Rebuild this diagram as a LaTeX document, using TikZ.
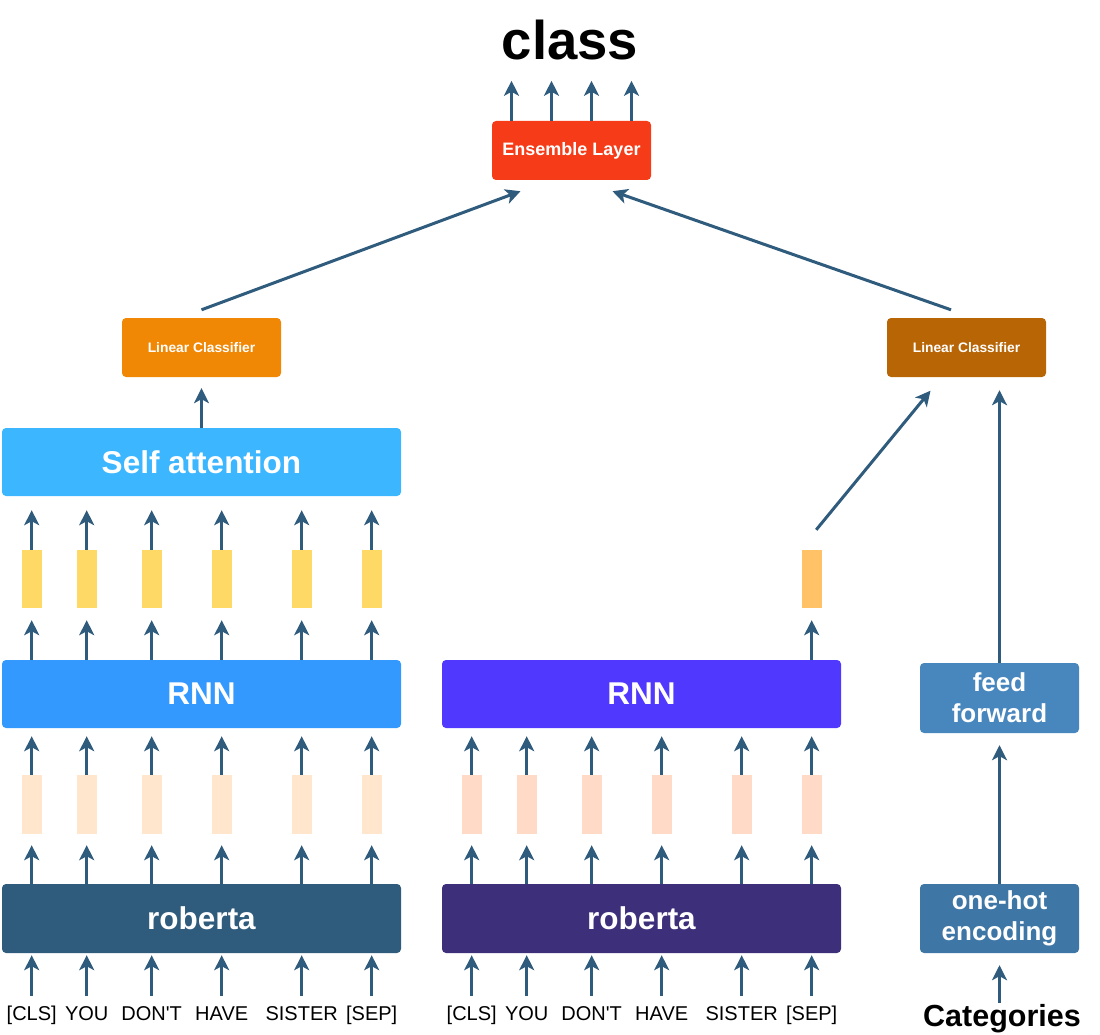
\documentclass[tikz,border=0pt]{standalone}
\usepackage{fontspec}
\setmainfont{Liberation Sans}[Ligatures=TeXOff]
\usetikzlibrary{arrows.meta,calc}
\definecolor{arrc}{HTML}{2F5B7C}
\definecolor{cEns}{HTML}{F53B17}
\definecolor{cLCL}{HTML}{F08705}
\definecolor{cLCR}{HTML}{B86506}
\definecolor{cSA}{HTML}{3CB6FF}
\definecolor{cRNNL}{HTML}{3399FF}
\definecolor{cRNNM}{HTML}{5038FF}
\definecolor{cROBL}{HTML}{2F5B7C}
\definecolor{cROBM}{HTML}{3E2F7B}
\definecolor{cFF}{HTML}{4887BE}
\definecolor{cOH}{HTML}{3E76A5}
\definecolor{cYel}{HTML}{FFD966}
\definecolor{cOra}{HTML}{FFC266}
\definecolor{cPeL}{HTML}{FFE6CC}
\definecolor{cPeM}{HTML}{FFDAC7}
\begin{document}
\begin{tikzpicture}[x=1pt,y=-1pt,
  arr/.style={draw=arrc, line width=3pt, -{Stealth[length=15pt,width=15pt,inset=4pt]}},
  box/.style={rounded corners=4pt, inner sep=0pt, text=white, align=center},
  bigbox/.style={box, minimum width=399pt, minimum height=68pt, font=\bfseries\fontsize{31.5}{34}\selectfont},
  smallbox/.style={box, minimum width=159pt, minimum height=59pt},
  sidebox/.style={box, minimum width=159pt, minimum height=69pt, font=\bfseries\fontsize{26}{31}\selectfont},
  vec/.style={inner sep=0pt, minimum width=20pt, minimum height=58pt},
  tok/.style={inner sep=0pt, text height=14.5pt, text depth=4pt, inner ysep=1pt, font=\fontsize{20}{22}\selectfont, text=black},
]
\useasboundingbox (0,0) rectangle (1100,1035);

% top
\node[anchor=base, inner sep=0pt, font=\bfseries\fontsize{54.5}{60}\selectfont] (cls) at (570,60) {class};
\node[smallbox, fill=cEns, font=\bfseries\fontsize{18}{20}\selectfont] (ens) at (571.5,150.5) {Ensemble Layer};
\foreach \i/\dx in {1/-60,2/-20,3/20,4/60}{
  \coordinate (out\i) at ($(ens.north)+(\dx,-40)$);
  \draw[arr] (ens.north -| out\i) -- (out\i);
}

% linear classifiers
\node[smallbox, fill=cLCL, font=\bfseries\fontsize{13.8}{16}\selectfont] (lcL) at (201.5,347.5) {Linear Classifier};
\node[smallbox, fill=cLCR, font=\bfseries\fontsize{13.8}{16}\selectfont] (lcR) at (966.5,347.5) {Linear Classifier};
\draw[arr] ([yshift=8pt]lcL.north) -- ([xshift=-51pt,yshift=-11pt]ens.south);
\draw[arr] ([xshift=-15.5pt,yshift=8pt]lcR.north) -- ([xshift=41pt,yshift=-11pt]ens.south);

% left column
\node[bigbox, fill=cSA] (sa) at (201.5,462) {Self attention};
\node[bigbox, fill=cRNNL] (rnnL) at (201.5,694) {RNN};
\node[bigbox, fill=cROBL, minimum height=69pt] (robL) at (201.5,918.5) {roberta};
\draw[arr, shorten >=11pt] (sa.north) -- (lcL.south);

\foreach \i/\x/\w in {1/31.7/[CLS],2/86.7/YOU,3/151.7/DON'T,4/221.7/HAVE,5/301.7/SISTER,6/371.7/[SEP]}{
  \node[vec, fill=cYel] (yL\i) at (\x,579) {};
  \node[vec, fill=cPeL, minimum height=59pt] (pL\i) at (\x,804.5) {};
  \node[tok, anchor=base] (tL\i) at (\x,1020) {\w};
  \draw[arr, shorten <=8pt, shorten >=2pt] (tL\i.north) -- (tL\i.north |- robL.south);
  \draw[arr, shorten >=11pt] (pL\i.south |- robL.north) -- (pL\i.south);
  \draw[arr, shorten >=8pt] (pL\i.north) -- (pL\i.north |- rnnL.south);
  \draw[arr, shorten >=12pt] (yL\i.south |- rnnL.north) -- (yL\i.south);
  \draw[arr, shorten >=14pt] (yL\i.north) -- (yL\i.north |- sa.south);
}

% middle column
\node[bigbox, fill=cRNNM] (rnnM) at (641.5,694) {RNN};
\node[bigbox, fill=cROBM, minimum height=69pt] (robM) at (641.5,918.5) {roberta};
\foreach \i/\x/\w in {1/471.7/[CLS],2/526.7/YOU,3/591.7/DON'T,4/661.7/HAVE,5/741.7/SISTER,6/811.7/[SEP]}{
  \node[vec, fill=cPeM, minimum height=59pt] (pM\i) at (\x,804.5) {};
  \node[tok, anchor=base] (tM\i) at (\x,1020) {\w};
  \draw[arr, shorten <=8pt, shorten >=2pt] (tM\i.north) -- (tM\i.north |- robM.south);
  \draw[arr, shorten >=11pt] (pM\i.south |- robM.north) -- (pM\i.south);
  \draw[arr, shorten >=8pt] (pM\i.north) -- (pM\i.north |- rnnM.south);
}
\node[vec, fill=cOra] (oM) at (811.7,579) {};
\draw[arr, shorten >=12pt] (oM.south |- rnnM.north) -- (oM.south);
\draw[arr] ([xshift=4.5pt,yshift=20pt]oM.north) -- ([xshift=-36pt,yshift=-13.5pt]lcR.south);

% right column
\node[sidebox, fill=cFF, minimum height=70pt] (ff) at (999.5,698) {feed\\forward};
\node[sidebox, fill=cOH] (oh) at (999.5,918.5) {one-hot\\encoding};
\node[anchor=base, inner sep=0pt, text height=22pt, font=\bfseries\fontsize{30.5}{34}\selectfont] (cat) at (1002,1026) {Categories};
\draw[arr, shorten <=1pt, shorten >=12pt] (oh.south |- cat.north) -- (oh.south);
\draw[arr, shorten >=12pt] (oh.north) -- (ff.south);
\draw[arr, shorten >=13pt] (ff.north) -- (ff.north |- lcR.south);
\end{tikzpicture}
\end{document}
